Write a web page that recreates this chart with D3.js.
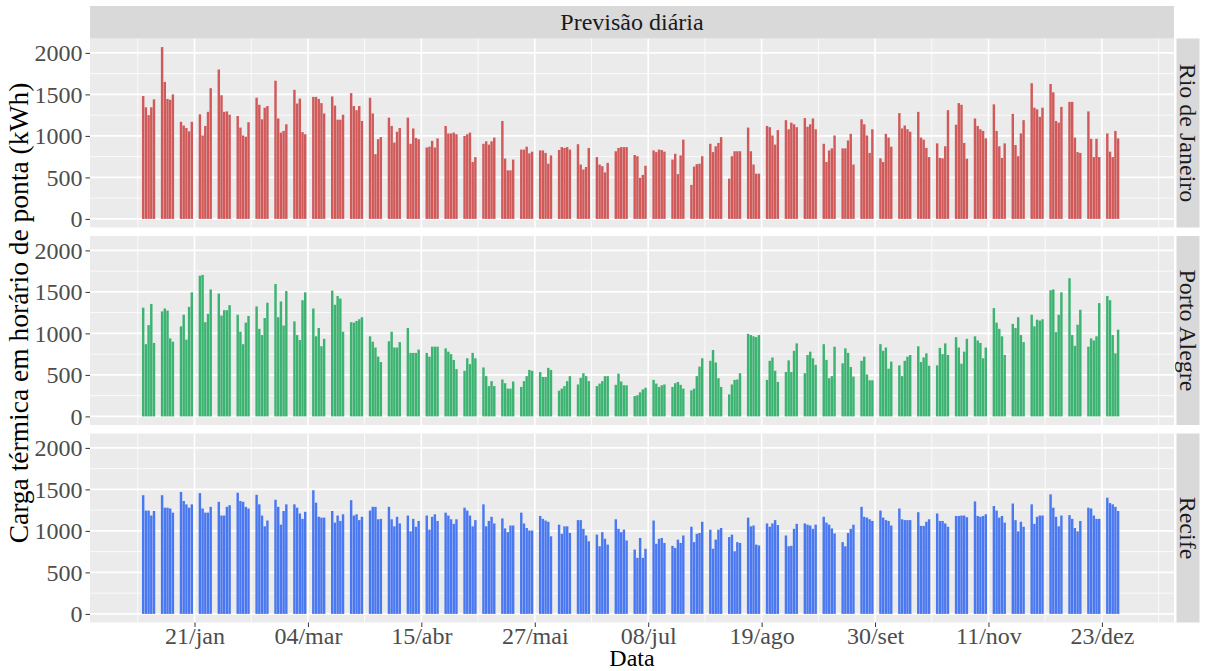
<!DOCTYPE html>
<html>
<head>
<meta charset="utf-8">
<script src="https://cdn.jsdelivr.net/npm/d3@7"></script>
<style>
  body { margin: 0; background: #fff; }
  svg text { font-family: "Liberation Serif", "Times New Roman", serif; }
</style>
</head>
<body>
<div class="chart"></div>
<script>
// facets, top to bottom
const cities = ["Rio de Janeiro", "Porto Alegre", "Recife"];

// peak-hour thermal load (kWh), one row per week, Mon..Fri (2017)
const rioValues = [
  1480, 1345, 1250, 1345, 1440,
  2070, 1650, 1445, 1435, 1500,
  1170, 1125, 1095, 1055, 1170,
  1260, 1005, 1120, 1290, 1575,
  1800, 1490, 1290, 1295, 1255,
  1240, 1100, 1005, 990, 1165,
  1460, 1375, 1200, 1340, 1360,
  1665, 1210, 1040, 1060, 1140,
  1555, 1390, 1450, 1045, 1020,
  1470, 1470, 1445, 1395, 1270,
  1475, 1365, 1195, 1195, 1255,
  1515, 1360, 1310, 1360, 1180,
  1460, 1270, 780, 960, 985,
  1220, 1120, 920, 1050, 1095,
  1220, 905, 1090, 975, 960,
  860, 870, 940, 860, 970,
  1120, 1030, 1030, 1040, 1020,
  1000, 1020, 1040, 685, 745,
  905, 935, 895, 935, 980,
  1180, 727, 585, 585, 715,
  835, 835, 870, 790, 810,
  825, 825, 795, 665, 765,
  830, 865, 855, 865, 835,
  900, 655, 595, 625, 855,
  745, 655, 635, 560, 675,
  815, 855, 865, 865, 865,
  770, 755, 495, 530, 640,
  825, 805, 835, 830, 810,
  715, 785, 540, 765, 955,
  410, 630, 660, 665, 755,
  905, 805, 875, 915, 985,
  485, 755, 815, 815, 815,
  1100, 815, 655, 545, 545,
  1120, 1105, 1005, 895, 1070,
  1190, 1080, 1160, 1140, 1105,
  1215, 1110, 1140, 1210, 1080,
  905, 685, 825, 850, 1005,
  850, 850, 945, 1025, 655,
  1200, 1140, 1005, 795, 1080,
  730, 685, 1025, 980, 870,
  1275, 1090, 1125, 1080, 1050,
  1290, 980, 955, 855, 745,
  910, 735, 730, 875, 1310,
  1135, 1395, 1375, 915, 725,
  1210, 1120, 1080, 1060, 970,
  1380, 1060, 875, 735, 910,
  1265, 890, 755, 1030, 1190,
  1635, 1340, 1320, 1230, 1340,
  1625, 1525, 1180, 1160, 1350,
  1410, 1410, 980, 805, 795,
  1295, 965, 745, 965, 745,
  1030, 810, 745, 1060, 970
];

const portoAlegreValues = [
  1310, 870, 1100, 1355, 885,
  1265, 1300, 1275, 940, 900,
  1085, 1225, 925, 1320, 1495,
  1695, 1705, 1135, 1235, 1530,
  1480, 1215, 1280, 1280, 1340,
  1225, 1020, 870, 1130, 1210,
  1325, 1055, 980, 1185, 1370,
  1595, 1195, 1385, 1095, 1510,
  1145, 980, 920, 1400, 1495,
  1300, 965, 1065, 845, 935,
  1515, 1345, 1450, 1420, 1020,
  1135, 1130, 1150, 1170, 1195,
  965, 900, 830, 720, 655,
  905, 1020, 830, 830, 895,
  1065, 765, 765, 765, 805,
  765, 720, 840, 840, 840,
  820, 780, 750, 680, 570,
  550, 700, 630, 765, 700,
  590, 485, 365, 425, 365,
  445, 400, 335, 335, 420,
  355, 425, 485, 560, 550,
  535, 475, 475, 585, 560,
  310, 335, 365, 425, 485,
  385, 465, 520, 485, 425,
  365, 395, 425, 485, 485,
  380, 515, 420, 375, 375,
  245, 255, 290, 325, 345,
  440, 395, 355, 375, 385,
  355, 400, 415, 380, 335,
  315, 335, 485, 600, 700,
  670, 800, 650, 460, 355,
  265, 385, 440, 445, 520,
  995, 980, 965, 955, 980,
  440, 670, 710, 550, 415,
  535, 675, 535, 790, 880,
  520, 740, 780, 700, 620,
  870, 680, 460, 485, 840,
  640, 820, 765, 595, 480,
  670, 720, 505, 435, 435,
  870, 790, 830, 575, 660,
  615, 485, 670, 720, 740,
  845, 655, 710, 760, 610,
  615, 825, 750, 880, 740,
  955, 830, 635, 780, 935,
  965, 915, 885, 700, 830,
  1305, 1130, 1055, 965, 740,
  1115, 1065, 1195, 980, 895,
  1225, 1085, 1165, 1155, 1170,
  1520, 1530, 1015, 1225, 1495,
  1665, 980, 850, 1105, 1285,
  840, 940, 915, 965, 1365,
  1450, 1400, 980, 760, 1045
];

const recifeValues = [
  1430, 1245, 1245, 1185, 1240,
  1430, 1280, 1280, 1270, 1220,
  1470, 1360, 1320, 1280, 1320,
  1455, 1270, 1220, 1220, 1290,
  1350, 1185, 1185, 1290, 1310,
  1460, 1360, 1350, 1290, 1270,
  1435, 1320, 1185, 1055, 1125,
  1375, 1290, 1075, 1240, 1320,
  1320, 1280, 1210, 1145, 1230,
  1490, 1340, 1170, 1160, 1160,
  1240, 1100, 1185, 1120, 1200,
  1370, 1185, 1200, 1130, 1170,
  1245, 1290, 1290, 1140, 1145,
  1290, 1140, 1055, 1170, 1090,
  1185, 995, 1145, 1050, 1120,
  1185, 1015, 1170, 1200, 1120,
  1220, 1185, 1140, 1085, 1140,
  1280, 1245, 1185, 1055, 1130,
  1320, 1055, 1120, 1170, 1090,
  1150, 1030, 985, 1065, 1065,
  1220, 1090, 1035, 1005, 1005,
  1180, 1145, 1125, 1110, 935,
  1075, 965, 1055, 1055, 975,
  1130, 1130, 1025, 945, 875,
  955, 815, 985, 905, 835,
  1140, 1025, 985, 1015, 885,
  775, 675, 915, 675, 785,
  1125, 845, 905, 915, 855,
  820, 795, 895, 855, 945,
  1050, 865, 965, 975, 1110,
  1015, 785, 895, 1015, 1035,
  925, 955, 755, 865, 855,
  1160, 1055, 1065, 835, 825,
  1090, 1050, 1090, 1130, 1070,
  945, 815, 820, 1025, 1085,
  1090, 1075, 1065, 1025, 1075,
  1170, 1100, 1075, 1030, 970,
  865, 815, 975, 1025, 1075,
  1290, 1170, 1160, 1140, 1120,
  1245, 1160, 1130, 1120, 1065,
  1270, 1140, 1130, 1130, 1130,
  1225, 1060, 1060, 1110, 1140,
  1210, 1120, 1120, 1090, 1050,
  1180, 1180, 1185, 1185, 1165,
  1355, 1180, 1170, 1180, 1200,
  1300, 1245, 1160, 1180, 1100,
  1330, 1130, 995, 1110, 1050,
  1320, 1085, 1170, 1185, 1185,
  1440, 1280, 1170, 1055, 1185,
  1190, 1145, 1035, 995, 1120,
  1280, 1270, 1185, 1145, 1145,
  1400, 1335, 1320, 1290, 1240
];

const seriesValues = [rioValues, portoAlegreValues, recifeValues];

// first weekday with data, and the calendar span the chart covers
const firstMonday = "2017-01-02";
const yearSpan = ["2017-01-01", "2017-12-31"];

const tickDates = ["2017-01-21", "2017-03-04", "2017-04-15", "2017-05-27", "2017-07-08",
                   "2017-08-19", "2017-09-30", "2017-11-11", "2017-12-23"];
const tickLabels = ["21/jan", "04/mar", "15/abr", "27/mai", "08/jul",
                    "19/ago", "30/set", "11/nov", "23/dez"];
const minorDates = ["2016-12-31", "2017-02-11", "2017-03-25", "2017-05-06", "2017-06-17",
                    "2017-07-29", "2017-09-09", "2017-10-21", "2017-12-02", "2018-01-13"];
const yTicks = [0, 500, 1000, 1500, 2000];
const yMinor = [250, 750, 1250, 1750];

const barColors = ["#D05A5A", "#3CB371", "#4A78F0"];

const W = 1206, H = 671;
const left = 90, right = 1174;
const panelH = 189, panelTop0 = 38.5, panelStep = 197.5;
const dayMs = 864e5;

const parse = s => new Date(s + "T00:00:00Z");

// weekday dates: Mon..Fri of each week
const start = parse(firstMonday).getTime();
const dates = d3.range(rioValues.length).map(i =>
  new Date(start + (Math.floor(i / 5) * 7 + (i % 5)) * dayMs));

const svg = d3.select(".chart").append("svg")
  .attr("width", W).attr("height", H)
  .style("display", "block")
  .style("background", "#fff");

// x scale, ggplot style: 0.9 day bars and 5% expansion
const lo = parse(yearSpan[0]).getTime() - 0.45 * dayMs;
const hi = parse(yearSpan[1]).getTime() + 0.45 * dayMs;
const pad = (hi - lo) * 0.05;
const x = d3.scaleUtc().domain([new Date(lo - pad), new Date(hi + pad)]).range([left, right]);

const allMax = d3.max(seriesValues.flat());
const yPad = allMax * 0.05;

cities.forEach((city, p) => {
  const top = panelTop0 + p * panelStep;
  const y = d3.scaleLinear().domain([-yPad, allMax + yPad]).range([top + panelH, top]);
  const g = svg.append("g");

  g.append("rect")
    .attr("x", left).attr("y", top)
    .attr("width", right - left).attr("height", panelH)
    .attr("fill", "#EBEBEB");

  // minor grid
  g.selectAll(".vminor").data(minorDates).enter().append("line")
    .attr("x1", d => x(parse(d))).attr("x2", d => x(parse(d)))
    .attr("y1", top).attr("y2", top + panelH)
    .attr("stroke", "#fff").attr("stroke-width", 0.8);
  g.selectAll(".hminor").data(yMinor).enter().append("line")
    .attr("x1", left).attr("x2", right)
    .attr("y1", d => y(d)).attr("y2", d => y(d))
    .attr("stroke", "#fff").attr("stroke-width", 0.8);
  // major grid
  g.selectAll(".vmajor").data(tickDates).enter().append("line")
    .attr("x1", d => x(parse(d))).attr("x2", d => x(parse(d)))
    .attr("y1", top).attr("y2", top + panelH)
    .attr("stroke", "#fff").attr("stroke-width", 1.6);
  g.selectAll(".hmajor").data(yTicks).enter().append("line")
    .attr("x1", left).attr("x2", right)
    .attr("y1", d => y(d)).attr("y2", d => y(d))
    .attr("stroke", "#fff").attr("stroke-width", 1.6);

  // bars
  g.selectAll(".bar").data(seriesValues[p]).enter().append("rect")
    .attr("x", (d, i) => x(new Date(dates[i].getTime() - 0.45 * dayMs)))
    .attr("width", (d, i) => x(new Date(dates[i].getTime() + 0.45 * dayMs)) - x(new Date(dates[i].getTime() - 0.45 * dayMs)))
    .attr("y", d => y(d))
    .attr("height", d => y(0) - y(d))
    .attr("fill", barColors[p]);

  // y axis
  const ay = g.append("g")
    .attr("transform", `translate(${left},0)`)
    .call(d3.axisLeft(y).tickValues(yTicks).tickFormat(d3.format("d")).tickSize(4.5).tickPadding(3));
  ay.select(".domain").remove();
  ay.selectAll(".tick line").attr("stroke", "#333");
  ay.selectAll(".tick text")
    .attr("fill", "#4D4D4D")
    .style("font-size", "24px");

  // right strip
  g.append("rect")
    .attr("x", right + 2.5).attr("y", top)
    .attr("width", 23).attr("height", panelH)
    .attr("fill", "#D9D9D9");
  g.append("text")
    .attr("transform", `translate(${right + 14},${top + panelH / 2}) rotate(90)`)
    .attr("text-anchor", "middle")
    .attr("dy", "0.33em")
    .attr("fill", "#1A1A1A")
    .style("font-size", "24px")
    .text(city);

  if (p === cities.length - 1) {
    const ax = g.append("g")
      .attr("transform", `translate(0,${top + panelH})`)
      .call(d3.axisBottom(x)
        .tickValues(tickDates.map(parse))
        .tickFormat((d, i) => tickLabels[i])
        .tickSize(4.5).tickPadding(0));
    ax.select(".domain").remove();
    ax.selectAll(".tick line").attr("stroke", "#333");
    ax.selectAll(".tick text")
      .attr("fill", "#4D4D4D")
      .style("font-size", "24px");
  }
});

// top strip
svg.append("rect")
  .attr("x", left).attr("y", 6)
  .attr("width", right - left).attr("height", panelTop0 - 6)
  .attr("fill", "#D9D9D9");
svg.append("text")
  .attr("x", (left + right) / 2).attr("y", 22)
  .attr("text-anchor", "middle").attr("dy", "0.33em")
  .attr("fill", "#1A1A1A")
  .style("font-size", "24px")
  .text("Previsão diária");

// axis titles
svg.append("text")
  .attr("x", (left + right) / 2).attr("y", 666)
  .attr("text-anchor", "middle")
  .attr("fill", "#000")
  .style("font-size", "24px")
  .text("Data");

svg.append("text")
  .attr("transform", "translate(28,313) rotate(-90)")
  .attr("text-anchor", "middle")
  .attr("fill", "#000")
  .style("font-size", "27.5px")
  .text("Carga térmica em horário de ponta (kWh)");
</script>
</body>
</html>
